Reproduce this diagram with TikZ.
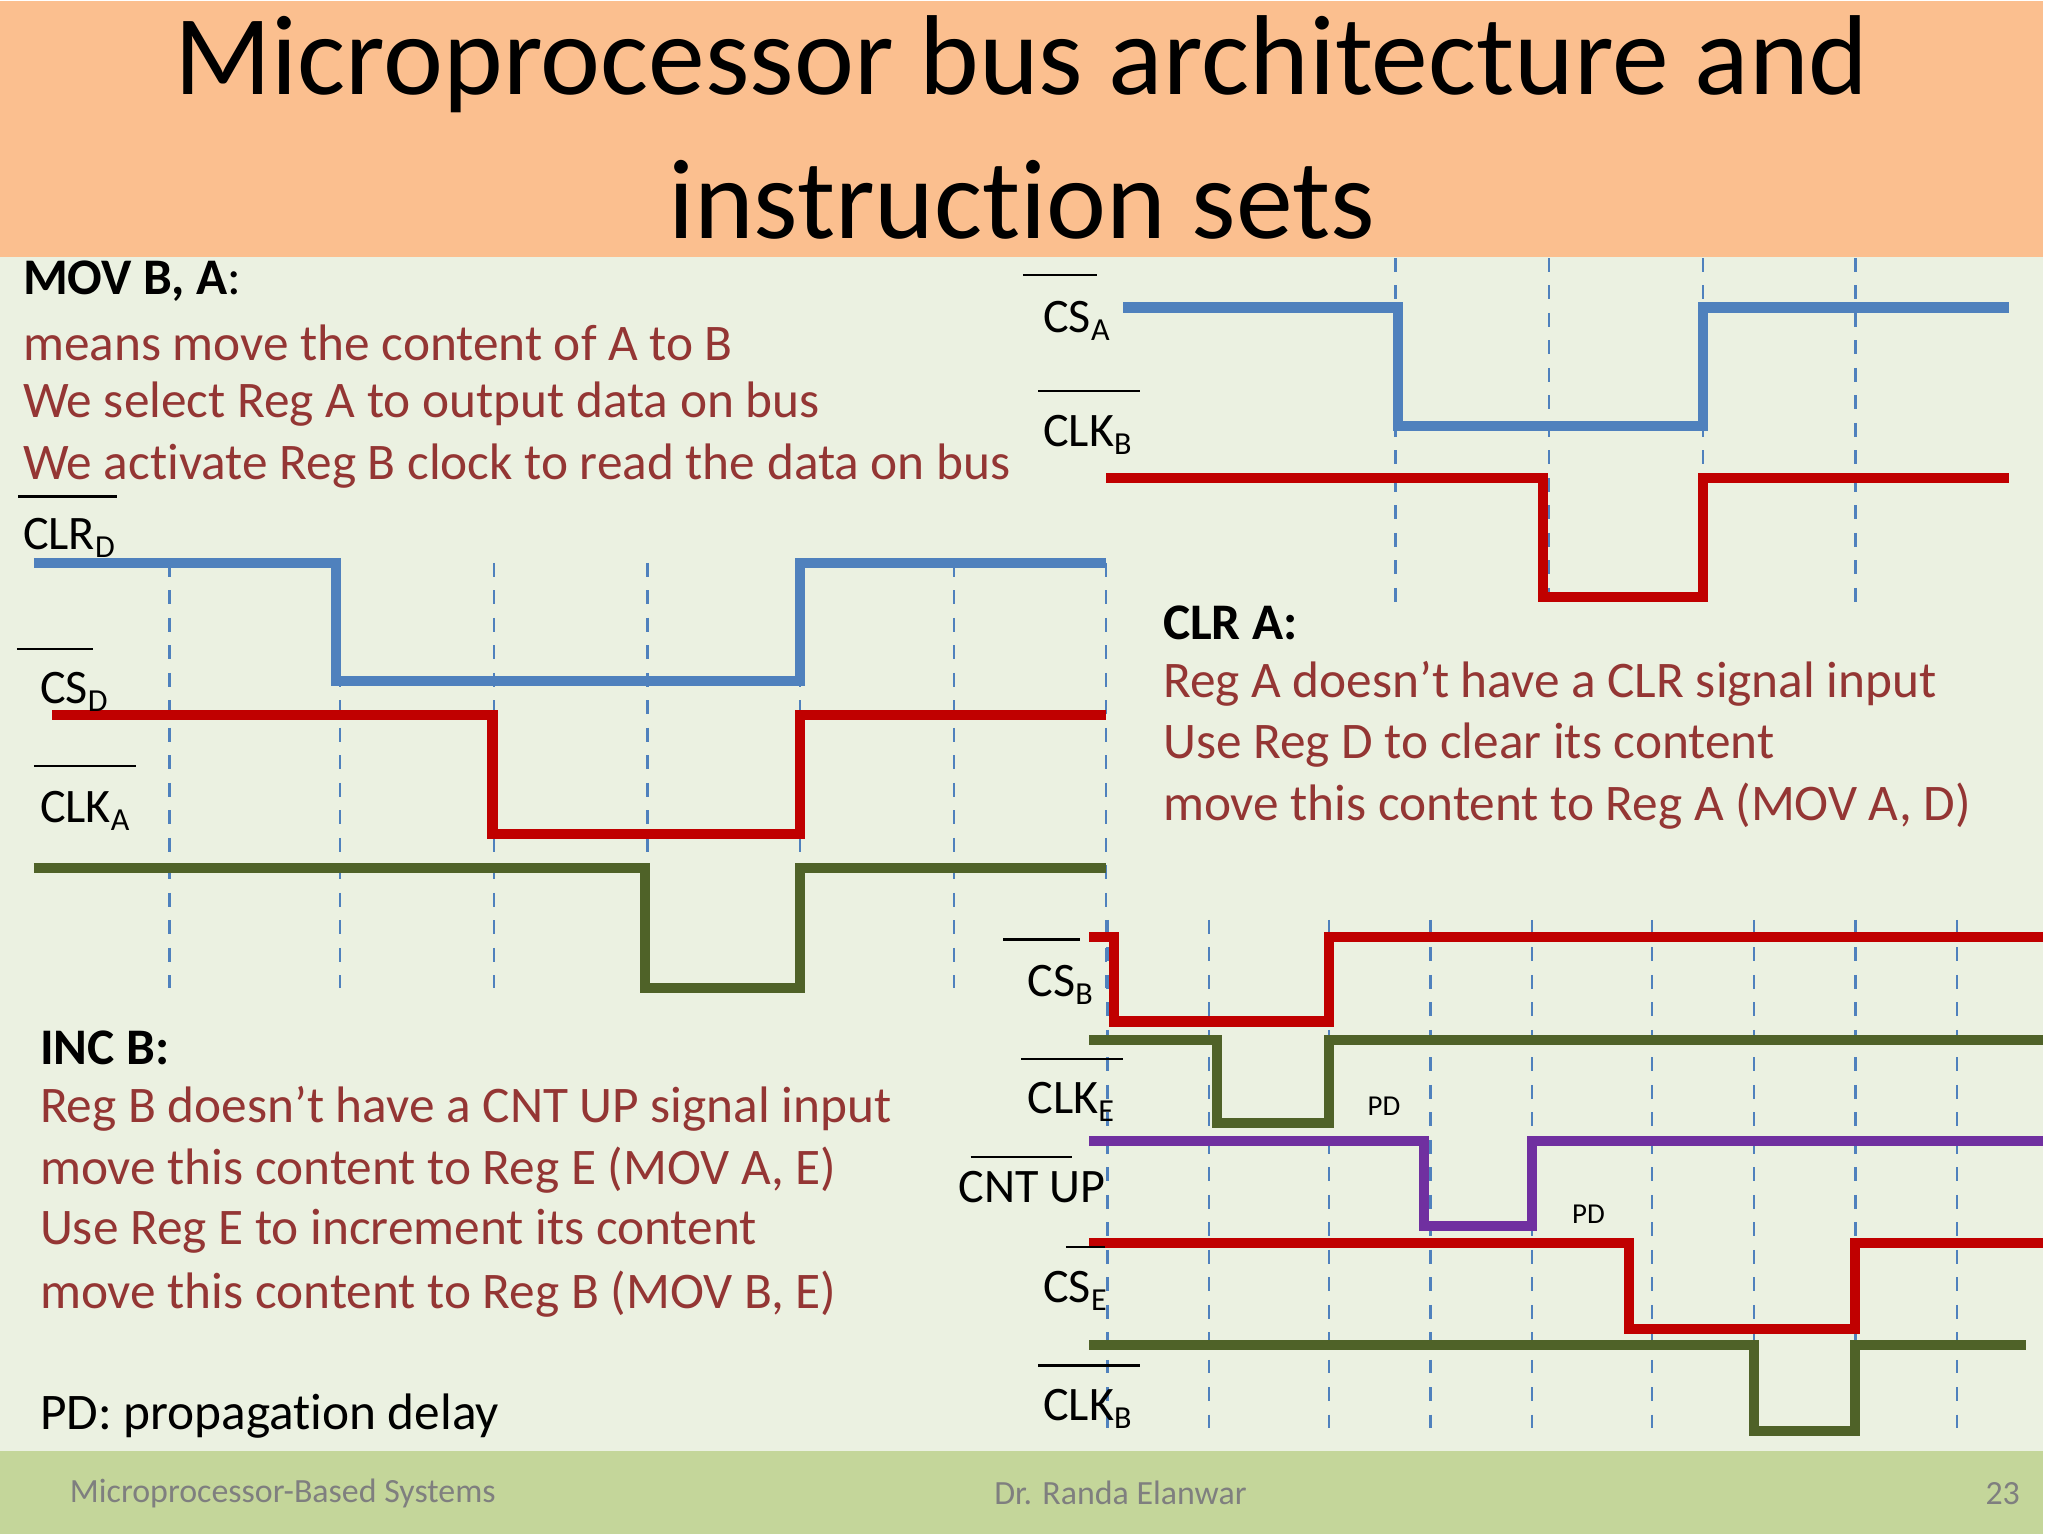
\documentclass[tikz,border=0pt]{standalone}
\usepackage{fontspec}
\setmainfont{Carlito}[Ligatures={NoCommon}]
\begin{document}
\definecolor{hdr}{HTML}{FBBF8F}
\definecolor{bg}{HTML}{EBF1E1}
\definecolor{ftr}{HTML}{C4D69A}
\definecolor{wb}{HTML}{4F81BD}
\definecolor{wr}{HTML}{C00000}
\definecolor{wg}{HTML}{4F6228}
\definecolor{wp}{HTML}{7030A0}
\definecolor{tr}{HTML}{943634}
\definecolor{ft}{HTML}{7F7F7F}
\newcommand{\sbs}[1]{\raisebox{-0.35ex}{\fontsize{7pt}{8pt}\selectfont #1}}
\begin{tikzpicture}[x=0.01cm,y=-0.01cm,
 wave/.style={line width=2.2pt},
 grid/.style={dashed,wb,line width=0.5pt},
 body/.style={anchor=west,font=\fontsize{11.2pt}{13pt}\selectfont,inner sep=0},
 lab/.style={anchor=west,font=\fontsize{10.5pt}{12pt}\selectfont,inner sep=0},
 ovl/.style={line width=0.5pt}]
\fill[bg] (0,0) rectangle (1568,1176);
\fill[hdr] (0,0) rectangle (1568,196);
\fill[ftr] (0,1113) rectangle (1568,1176);
\node[font=\fontsize{24.8pt}{29pt}\selectfont] (t1) at (784,48) {Microprocessor bus architecture and};
\node[font=\fontsize{24.8pt}{29pt}\selectfont] (t2) at (784,152) {instruction sets};
\node[anchor=west,inner sep=0,text=ft,font=\fontsize{7.4pt}{8pt}\selectfont] (f1) at (53,1145) {Microprocessor-Based Systems};
\node[text=ft,font=\fontsize{7.4pt}{8pt}\selectfont] (f2) at (860,1145) {Dr. Randa Elanwar};
\node[anchor=east,inner sep=0,text=ft,font=\fontsize{7.4pt}{8pt}\selectfont] (f3) at (1551,1145) {23};
% grids
\foreach \x in {1071,1189,1307,1424} \draw[grid] (\x,197) -- (\x,465);
\foreach \x in {130,261,379,497,614,732,849} \draw[grid] (\x,431) -- (\x,757);
\foreach \x in {850,928,1020,1098,1176,1268,1346,1424,1502} \draw[grid] (\x,705) -- (\x,1100);
% top right waves
\draw[wave,wb] (862,235)--(1073,235)--(1073,326)--(1307,326)--(1307,235)--(1542,235);
\draw[wave,wr] (849,366)--(1184,366)--(1184,457)--(1307,457)--(1307,366)--(1542,366);
% left waves
\draw[wave,wb] (26,431)--(258,431)--(258,522)--(614,522)--(614,431)--(849,431);
\draw[wave,wr] (40,548)--(378,548)--(378,639)--(614,639)--(614,548)--(849,548);
\draw[wave,wg] (26,665)--(495,665)--(495,757)--(614,757)--(614,665)--(849,665);
% bottom right waves
\draw[wave,wr] (836,718)--(855,718)--(855,783)--(1020,783)--(1020,718)--(1568,718);
\draw[wave,wg] (836,797)--(934,797)--(934,861)--(1020,861)--(1020,797)--(1568,797);
\draw[wave,wp] (836,875)--(1093,875)--(1093,940)--(1176,940)--(1176,875)--(1568,875);
\draw[wave,wr] (836,953)--(1250,953)--(1250,1019)--(1424,1019)--(1424,953)--(1568,953);
\draw[wave,wg] (836,1031)--(1346,1031)--(1346,1097)--(1424,1097)--(1424,1031)--(1555,1031);
% labels
\node[lab] (csa) at (800,245) {CS\sbs{A}}; \draw[ovl] (785,210)--(842,210);
\node[lab] (clkb1) at (800,333) {CLK\sbs{B}}; \draw[ovl] (797,299)--(875,299);
\node[lab] (clrd) at (17,412) {CLR\sbs{D}}; \draw[ovl] (14,380)--(90,380);
\node[lab] (csd) at (30,530) {CS\sbs{D}}; \draw[ovl] (13,497)--(71,497);
\node[lab] (clka) at (30,621) {CLK\sbs{A}}; \draw[ovl] (26,587)--(104,587);
\node[lab] (csb) at (788,755) {CS\sbs{B}}; \draw[ovl] (770,720)--(829,720);
\node[lab] (clke) at (788,845) {CLK\sbs{E}}; \draw[ovl] (784,812)--(862,812);
\node[lab] (cnt) at (735,910) {CNT UP}; \draw[ovl] (745,887)--(823,887);
\node[lab] (cse) at (800,990) {CS\sbs{E}}; \draw[ovl] (818,956)--(848,956);
\node[lab] (clkb2) at (800,1080) {CLK\sbs{B}}; \draw[ovl] (797,1047)--(875,1047);
\node[anchor=west,inner sep=0,font=\fontsize{6.3pt}{7pt}\selectfont] (pd1) at (1049,848) {PD};
\node[anchor=west,inner sep=0,font=\fontsize{6.3pt}{7pt}\selectfont] (pd2) at (1206,931) {PD};
% text blocks
\node[body] (m0) at (17,215) {\textbf{MOV B, A}:};
\node[body,text=tr] (m1) at (17,262) {means move the content of A to B};
\node[body,text=tr] (m2) at (17,309) {We select Reg A to output data on bus};
\node[body,text=tr] (m3) at (17,357) {We activate Reg B clock to read the data on bus};
\node[body] (c0) at (892,477) {\textbf{CLR A:}};
\node[body,text=tr] (c1) at (892,524) {Reg A doesn’t have a CLR signal input};
\node[body,text=tr] (c2) at (892,571) {Use Reg D to clear its content};
\node[body,text=tr] (c3) at (892,618) {move this content to Reg A (MOV A, D)};
\node[body] (i0) at (30,803) {\textbf{INC B:}};
\node[body,text=tr] (i1) at (30,850) {Reg B doesn’t have a CNT UP signal input};
\node[body,text=tr] (i2) at (30,897) {move this content to Reg E (MOV A, E)};
\node[body,text=tr] (i3) at (30,944) {Use Reg E to increment its content};
\node[body,text=tr] (i4) at (30,992) {move this content to Reg B (MOV B, E)};
\node[body] (pd) at (30,1086) {PD: propagation delay};
\end{tikzpicture}
\end{document}
